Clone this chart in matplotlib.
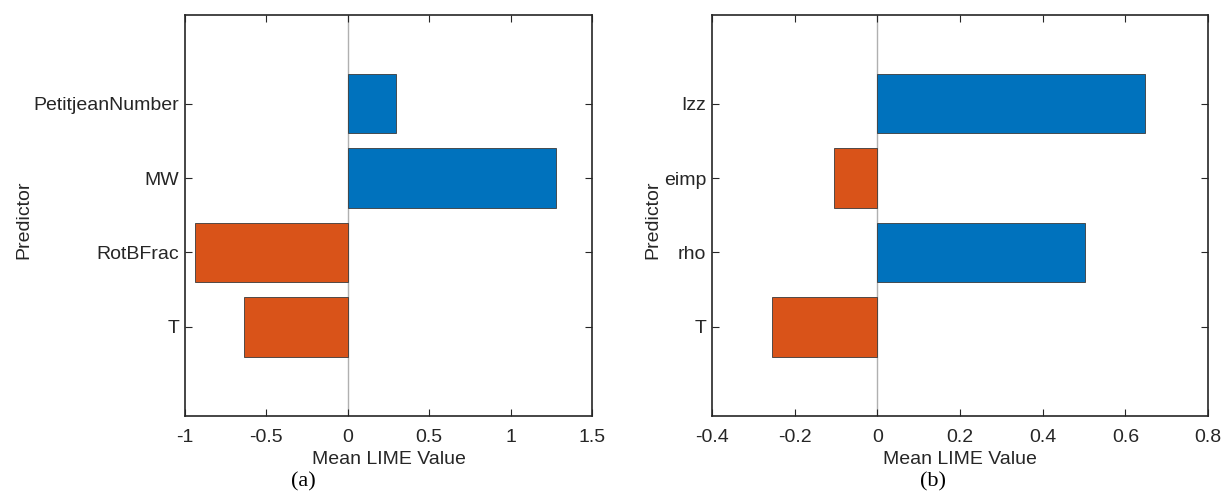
import matplotlib
matplotlib.use("Agg")
import matplotlib.pyplot as plt

plt.rcParams['font.family'] = ['Liberation Sans', 'DejaVu Sans']

# Panel (a)
preds_a = ["T", "RotBFrac", "MW", "PetitjeanNumber"]
vals_a = [-0.64, -0.94, 1.28, 0.295]
xticks_a = [-1, -0.5, 0, 0.5, 1, 1.5]
xticklabels_a = ["-1", "-0.5", "0", "0.5", "1", "1.5"]

# Panel (b)
preds_b = ["T", "rho", "eimp", "Izz"]
vals_b = [-0.256, 0.502, -0.106, 0.647]
xticks_b = [-0.4, -0.2, 0, 0.2, 0.4, 0.6, 0.8]
xticklabels_b = ["-0.4", "-0.2", "0", "0.2", "0.4", "0.6", "0.8"]

BLUE = "#0072BD"
ORANGE = "#D95319"

fig = plt.figure(figsize=(12.25, 4.92), dpi=100)
W, H = 1225, 492
ax_a = fig.add_axes([185 / W, 1 - 416 / H, (592 - 185) / W, (416 - 14.5) / H])
ax_b = fig.add_axes([712 / W, 1 - 416 / H, (1208 - 712) / W, (416 - 14.5) / H])

def draw(ax, preds, vals, xticks, xlabels, xlim, tag, tagx):
    ypos = list(range(1, len(preds) + 1))
    colors = [BLUE if v >= 0 else ORANGE for v in vals]
    ax.axvline(0, color="#b0b0b0", lw=1, zorder=1)
    ax.barh(ypos, vals, height=0.8, color=colors, edgecolor="#3a3a3a",
            linewidth=0.6, zorder=2)
    ax.set_xlim(*xlim)
    ax.set_ylim(-0.2, 5.2)
    ax.set_xticks(xticks)
    ax.set_xticklabels(xlabels)
    ax.set_yticks(ypos)
    ax.set_yticklabels(preds)
    ax.tick_params(direction="in", length=5, width=0.8, labelsize=14,
                   top=True, right=True, colors="#262626", labelcolor="#262626")
    ax.tick_params(axis="x", pad=9)
    ax.tick_params(axis="y", pad=4)
    for s in ax.spines.values():
        s.set_linewidth(1.2)
        s.set_color("#262626")
    ax.set_xlabel("Mean LIME Value", fontsize=14, color="#262626", labelpad=4)
    ax.set_ylabel("Predictor", fontsize=14, color="#262626")
    ax.text(tagx, -0.163, tag, transform=ax.transAxes,
            fontsize=16, family="Liberation Serif", ha="center", va="center")

draw(ax_a, preds_a, vals_a, xticks_a, xticklabels_a, (-1, 1.5), "(a)", 0.29)
draw(ax_b, preds_b, vals_b, xticks_b, xticklabels_b, (-0.4, 0.8), "(b)", 0.445)

ax_a.yaxis.set_label_coords(-0.375, 0.49)
ax_b.yaxis.set_label_coords(-0.103, 0.49)

fig.savefig("out.png", dpi=100)
